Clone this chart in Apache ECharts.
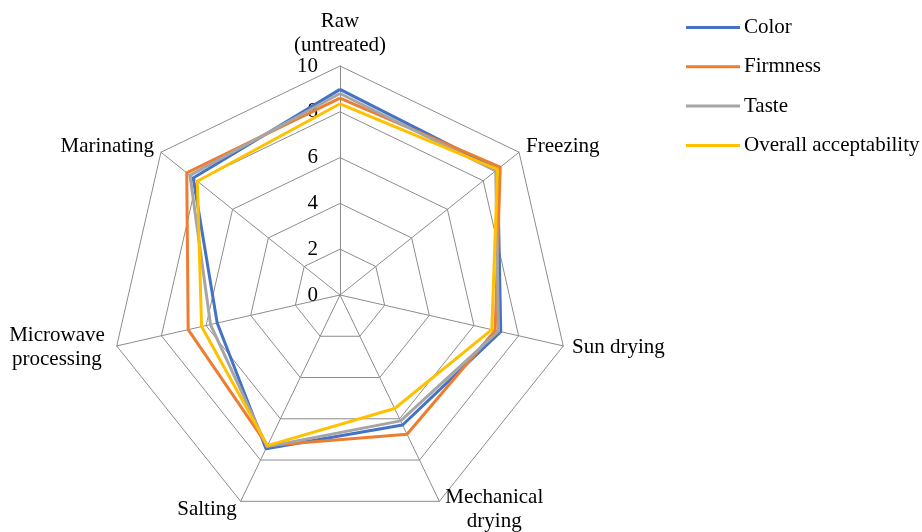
<!DOCTYPE html>
<html>
<head>
<meta charset="utf-8">
<script src="https://cdn.jsdelivr.net/npm/echarts@6/dist/echarts.min.js"></script>
<style>
html,body{margin:0;padding:0;background:#fff;}
#chart{width:922px;height:532px;}
</style>
</head>
<body>
<div id="chart"></div>
<script>
// Indicators in ECharts order (counter-clockwise from top)
var categories = ['Raw\n(untreated)', 'Marinating', 'Microwave\nprocessing', 'Salting', 'Mechanical\ndrying', 'Sun drying', 'Freezing'];
var seriesNames = ['Color', 'Firmness', 'Taste', 'Overall acceptability'];
var colorVals   = [8.98, 8.2, 5.5, 7.45, 6.3, 7.2, 8.8];
var firmVals    = [8.6, 8.56, 6.8, 7.3, 6.75, 6.95, 8.95];
var tasteVals   = [8.8, 8.38, 5.8, 7.35, 6.1, 7.1, 8.7];
var overallVals = [8.35, 7.97, 6.2, 7.3, 5.5, 6.8, 8.8];
var axisMax = 10;
var tickLabels = ['0', '2', '4', '6', '8', '10'];

var colors = ['#4472C4', '#ED7D31', '#A5A5A5', '#FFC000'];
var font = '"Liberation Serif", "Times New Roman", serif';

var chart = echarts.init(document.getElementById('chart'));
var indicator = categories.map(function (c, i) {
  var o = { name: c, max: axisMax, min: 0 };
  if (i === 0) o.axisLabel = { show: true };
  return o;
});
var allVals = [colorVals, firmVals, tasteVals, overallVals];
chart.setOption({
  animation: false,
  color: colors,
  legend: {
    orient: 'vertical',
    left: 686,
    top: 17,
    padding: 0,
    itemWidth: 54,
    itemHeight: 3,
    itemGap: 18.3,
    icon: 'rect',
    textStyle: { fontFamily: font, fontSize: 21, color: '#000', padding: [0, 0, 0, -1] },
    data: seriesNames
  },
  radar: {
    center: [340, 295],
    radius: 229,
    startAngle: 90,
    splitNumber: 5,
    shape: 'polygon',
    nameGap: 9,
    indicator: indicator,
    axisName: {
      color: '#000',
      fontFamily: font,
      fontSize: 21,
      formatter: function (v) {
        if (v.indexOf('\n') < 0) return v;
        return v.split('\n').map(function (s) { return '{a|' + s + '}'; }).join('\n');
      },
      rich: {
        a: { fontFamily: font, fontSize: 21, color: '#000', width: 102, align: 'center', lineHeight: 24 }
      }
    },
    axisLabel: {
      show: false,
      fontFamily: font,
      fontSize: 21,
      color: '#000',
      margin: 22,
      formatter: function (v) { return tickLabels[Math.round(v / 2)] || ''; }
    },
    axisLine: { lineStyle: { color: '#8c8c8c', width: 1 } },
    splitLine: { lineStyle: { color: '#8c8c8c', width: 1 } },
    splitArea: { show: false },
    axisTick: { show: false }
  },
  series: [{
    type: 'radar',
    symbol: 'none',
    data: seriesNames.map(function (n, i) {
      return {
        name: n,
        value: allVals[i],
        lineStyle: { width: 3, color: colors[i] },
        itemStyle: { color: colors[i] }
      };
    })
  }]
});
</script>
</body>
</html>
